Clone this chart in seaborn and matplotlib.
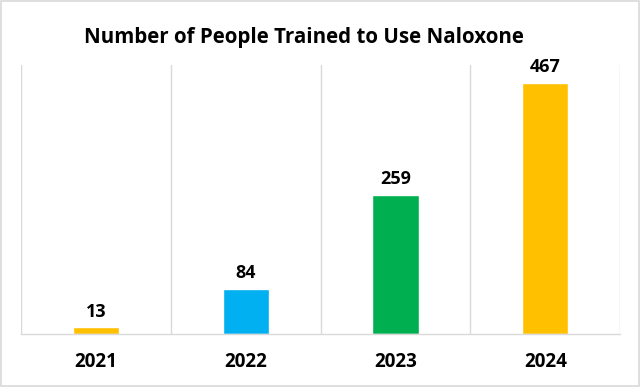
import matplotlib.pyplot as plt
import seaborn as sns
import numpy as np
from matplotlib.patches import Rectangle

# ── data ──────────────────────────────────────────────────
years = ["2021", "2022", "2023", "2024"]
trained = [13, 84, 259, 467]
bar_colors = ["#FFC000", "#00B0F0", "#00B050", "#FFC000"]

# ── style ─────────────────────────────────────────────────
sns.set_style("white", {"text.color": "black", "xtick.color": "black"})
plt.rcParams["font.family"] = ["Open Sans", "DejaVu Sans"]

fig = plt.figure(figsize=(6.4, 3.87), dpi=100)
ax = fig.add_axes([0.033, 0.137, 0.936, 0.695])

sns.barplot(x=years, y=trained, hue=years, palette=bar_colors,
            width=0.31, legend=False, ax=ax, saturation=1)

for i, v in enumerate(trained):
    ax.text(i, v + 12, str(v), ha="center", va="bottom",
            fontsize=13, fontweight="bold", color="black")

ax.set_ylim(0, 500)
ax.set_xlim(-0.5, len(years) - 0.5)
ax.set_yticks([])

# vertical separators between categories
ax.set_xticks(np.arange(-0.5, len(years)), minor=True)
ax.grid(True, which="minor", axis="x", color="#D9D9D9", linewidth=1)
ax.tick_params(axis="x", which="both", length=0, labelsize=13.5, pad=13,
               labelcolor="black")
for lbl in ax.get_xticklabels():
    lbl.set_fontweight("bold")

for side in ["top", "left", "right"]:
    ax.spines[side].set_visible(False)
ax.spines["bottom"].set_color("#D9D9D9")
ax.spines["bottom"].set_linewidth(1)

# title sits a little left of centre in the original
fig.text(0.475, 0.902, "Number of People Trained to Use Naloxone",
         ha="center", va="center", fontsize=14.8, fontweight="bold", color="black")

# light outer border
fig.patches.append(Rectangle((0.002, 0.003), 0.996, 0.994, transform=fig.transFigure,
                             fill=False, edgecolor="#D9D9D9", linewidth=1.2))

fig.savefig("out.png", dpi=100)
